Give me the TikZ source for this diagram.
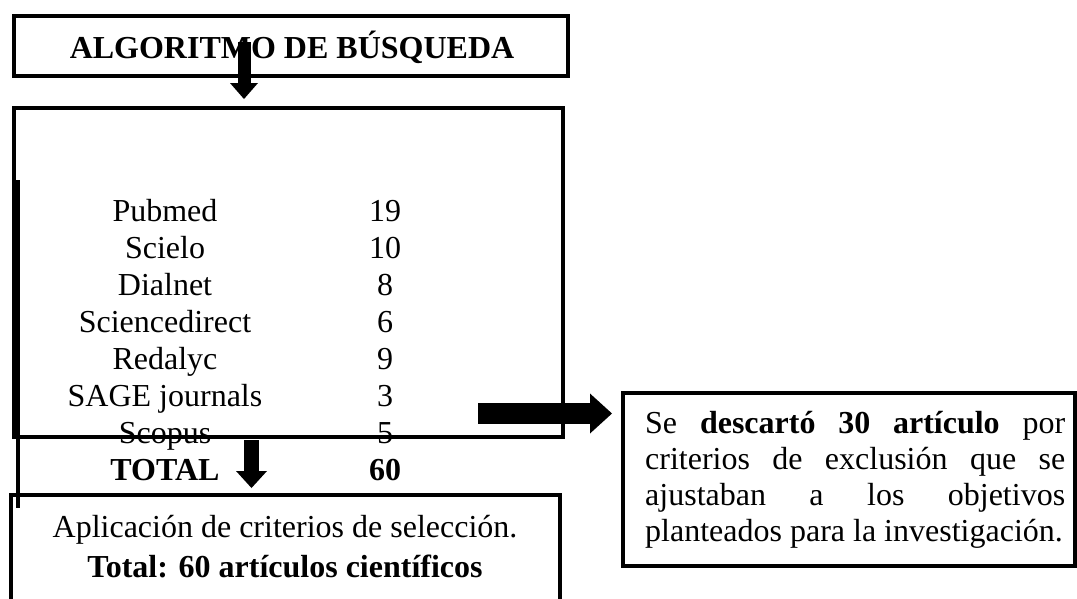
\documentclass[tikz,border=0pt]{standalone}
\usepackage{fontspec}
\setmainfont{Liberation Serif}
\usetikzlibrary{arrows.meta}
\begin{document}
\begin{tikzpicture}[x=1pt,y=-1pt,
  frame/.style={draw, line width=4pt, inner sep=0pt},
  txt/.style={anchor=base, inner sep=0pt, font=\fontsize{32}{36}\selectfont},
  txtl/.style={anchor=base west, inner sep=0pt, font=\fontsize{32}{36}\selectfont},
  blockarrow/.style={line width=#1}]
\useasboundingbox (0,0) rectangle (1077,598);
% boxes
\node[frame, minimum width=554pt, minimum height=60.5pt] (title) at (291,45.75) {};
\node[frame, minimum width=548.5pt, minimum height=329pt] (db) at (288.25,272.5) {};
\node[frame, minimum width=549pt, minimum height=125pt] (sel) at (285,557.5) {};
\node[frame, minimum width=452pt, minimum height=173pt] (excl) at (849,479.5) {};
\coordinate (ls) at (18,180);
\coordinate (le) at (18,508);
\draw[line width=4pt] (ls) -- (le);
% title
\node[txt] (ttl) at (292,58) {\textbf{ALGORITMO DE BÚSQUEDA}};
% table
\node[txt] (n1) at (165,221.5) {Pubmed};        \node[txt] (v1) at (385,221.5) {19};
\node[txt] (n2) at (165,258.5) {Scielo};        \node[txt] (v2) at (385,258.5) {10};
\node[txt] (n3) at (165,295.5) {Dialnet};       \node[txt] (v3) at (385,295.5) {8};
\node[txt] (n4) at (165,332.5) {Sciencedirect}; \node[txt] (v4) at (385,332.5) {6};
\node[txt] (n5) at (165,369.5) {Redalyc};       \node[txt] (v5) at (385,369.5) {9};
\node[txt] (n6) at (165,406.5) {SAGE journals}; \node[txt] (v6) at (385,406.5) {3};
\node[txt] (n7) at (165,443.5) {Scopus};        \node[txt] (v7) at (385,443.5) {5};
\node[txt] (n8) at (165,480.5) {\textbf{TOTAL}}; \node[txt] (v8) at (385,480.5) {\textbf{60}};
% selection box text
\node[txt] (s1) at (285,537) {Aplicación de criterios de selección.};
\node[txt] (s2) at (285,577) {\textbf{Total: 60 artículos científicos}};
% exclusion box text
\node[txtl] (e1) at (645,433) {\hbox to 420pt{Se\hfill\textbf{descartó}\hfill\textbf{30}\hfill\textbf{artículo}\hfill por}};
\node[txtl] (e2) at (645,469) {\hbox to 420pt{criterios\hfill de\hfill exclusión\hfill que\hfill se}};
\node[txtl] (e3) at (645,505) {\hbox to 420pt{ajustaban\hfill a\hfill los\hfill objetivos}};
\node[txtl] (e4) at (645,541) {planteados para la investigación.};
% arrows
\coordinate (a1s) at (244,42);  \coordinate (a1e) at (244,99);
\coordinate (a2s) at (251.5,440); \coordinate (a2e) at (251.5,488);
\coordinate (a3s) at (478,413.5); \coordinate (a3e) at (612,413.5);
\draw[blockarrow=13pt, -{Triangle[width=28pt,length=16pt,line width=0pt]}] (a1s) -- (a1e);
\draw[blockarrow=15pt, -{Triangle[width=31pt,length=17pt,line width=0pt]}] (a2s) -- (a2e);
\draw[blockarrow=21pt, -{Triangle[width=40pt,length=22pt,line width=0pt]}] (a3s) -- (a3e);
\end{tikzpicture}
\end{document}
